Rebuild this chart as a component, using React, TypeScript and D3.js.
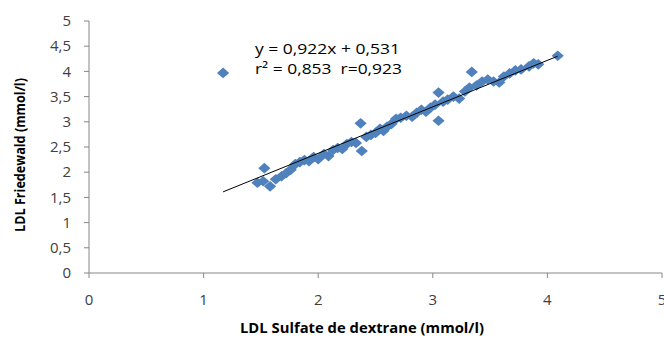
import React from "react";
import * as d3 from "d3";

const ldlSulfate = [
  1.17, 1.47, 1.52, 1.53, 1.58, 1.63, 1.68, 1.72, 1.76, 1.80, 1.84, 1.88, 1.92, 1.96,
  2.00, 2.05, 2.09, 2.13, 2.17, 2.21, 2.25, 2.29, 2.33, 2.37, 2.38, 2.42, 2.46, 2.50,
  2.54, 2.57, 2.60, 2.64, 2.68, 2.72, 2.77, 2.82, 2.86, 2.90, 2.94, 2.98, 3.02, 3.05,
  3.05, 3.09, 3.13, 3.18, 3.23, 3.28, 3.32, 3.34, 3.38, 3.43, 3.48, 3.53, 3.58, 3.62,
  3.67, 3.72, 3.77, 3.84, 3.88, 3.92, 4.09,
];
const ldlFriedewald = [
  3.97, 1.79, 1.82, 2.08, 1.72, 1.86, 1.92, 1.98, 2.05, 2.16, 2.20, 2.24, 2.22, 2.30,
  2.26, 2.36, 2.32, 2.44, 2.48, 2.46, 2.56, 2.60, 2.58, 2.97, 2.42, 2.70, 2.74, 2.78,
  2.86, 2.82, 2.90, 2.96, 3.06, 3.08, 3.12, 3.10, 3.18, 3.24, 3.20, 3.28, 3.34, 3.58,
  3.02, 3.40, 3.44, 3.50, 3.46, 3.60, 3.68, 3.99, 3.72, 3.80, 3.84, 3.80, 3.78, 3.90,
  3.96, 4.02, 4.04, 4.10, 4.16, 4.14, 4.31,
];
const xTicks = [0, 1, 2, 3, 4, 5];
const yTicks = [0, 0.5, 1, 1.5, 2, 2.5, 3, 3.5, 4, 4.5, 5];
const slope = 0.922;
const intercept = 0.531;
const equationLines = ["y = 0,922x + 0,531", "r² = 0,853\u00a0\u00a0r=0,923"];
const xTitle = "LDL Sulfate de dextrane (mmol/l)";
const yTitle = "LDL Friedewald (mmol/l)";

const fmt = (v: number) => String(v).replace(".", ",");

export default function App() {
  const W = 664;
  const H = 338;
  const x = d3.scaleLinear().domain([0, 5]).range([89, 662]);
  const y = d3.scaleLinear().domain([0, 5]).range([273, 21]);
  const font = "'Open Sans', sans-serif";
  const axisColor = "#868686";
  const textColor = "#404040";
  const xMin = d3.min(ldlSulfate)!;
  const xMax = d3.max(ldlSulfate)!;
  const diamond = d3.symbol().type(d3.symbolDiamond2).size(72)()!;
  const pts = ldlSulfate.map((v, i) => [v, ldlFriedewald[i]]);

  return (
    <div style={{ position: "fixed", left: 0, top: 0, width: W, height: H, background: "#fff" }}>
      <svg width={W} height={H} style={{ display: "block" }}>
        {/* axes */}
        <line x1={x(0)} x2={x(0)} y1={y(5)} y2={y(0)} stroke={axisColor} strokeWidth={1} />
        <line x1={x(0)} x2={x(5)} y1={y(0)} y2={y(0)} stroke={axisColor} strokeWidth={1} />
        {yTicks.map((t) => (
          <g key={"y" + t}>
            <line x1={x(0) - 5} x2={x(0)} y1={y(t)} y2={y(t)} stroke={axisColor} />
            <text x={71} y={y(t)} dy="0.35em" textAnchor="end" fontFamily={font} fontSize={15} fill={textColor}>
              {fmt(t)}
            </text>
          </g>
        ))}
        {xTicks.map((t) => (
          <g key={"x" + t}>
            <line x1={x(t)} x2={x(t)} y1={y(0)} y2={y(0) + 5} stroke={axisColor} />
            <text x={x(t)} y={305} textAnchor="middle" fontFamily={font} fontSize={15} fill={textColor}>
              {fmt(t)}
            </text>
          </g>
        ))}
        {/* points */}
        {pts.map(([a, b], i) => (
          <path key={i} d={diamond} transform={`translate(${x(a)},${y(b)}) scale(1.15,1)`} fill="#4F81BD" />
        ))}
        {/* trend line */}
        <line
          x1={x(xMin)}
          y1={y(slope * xMin + intercept)}
          x2={x(xMax)}
          y2={y(slope * xMax + intercept)}
          stroke="#000"
          strokeWidth={1}
        />
        {/* equation */}
        {equationLines.map((l, i) => (
          <text
            key={l}
            x={255}
            y={54 + i * 20}
            fontFamily={font}
            fontSize={15}
            fill="#000"
            textLength={i === 0 ? 145 : 147}
            lengthAdjust="spacingAndGlyphs"
          >
            {l}
          </text>
        ))}
        {/* titles */}
        <text
          x={240}
          y={333}
          fontFamily={font}
          fontSize={14}
          fontWeight="bold"
          fill="#000"
          textLength={244}
          lengthAdjust="spacingAndGlyphs"
        >
          {xTitle}
        </text>
        <text
          transform={`translate(25,232) rotate(-90)`}
          fontFamily={font}
          fontSize={14}
          fontWeight="bold"
          fill="#000"
          textLength={154}
          lengthAdjust="spacingAndGlyphs"
        >
          {yTitle}
        </text>
      </svg>
    </div>
  );
}
